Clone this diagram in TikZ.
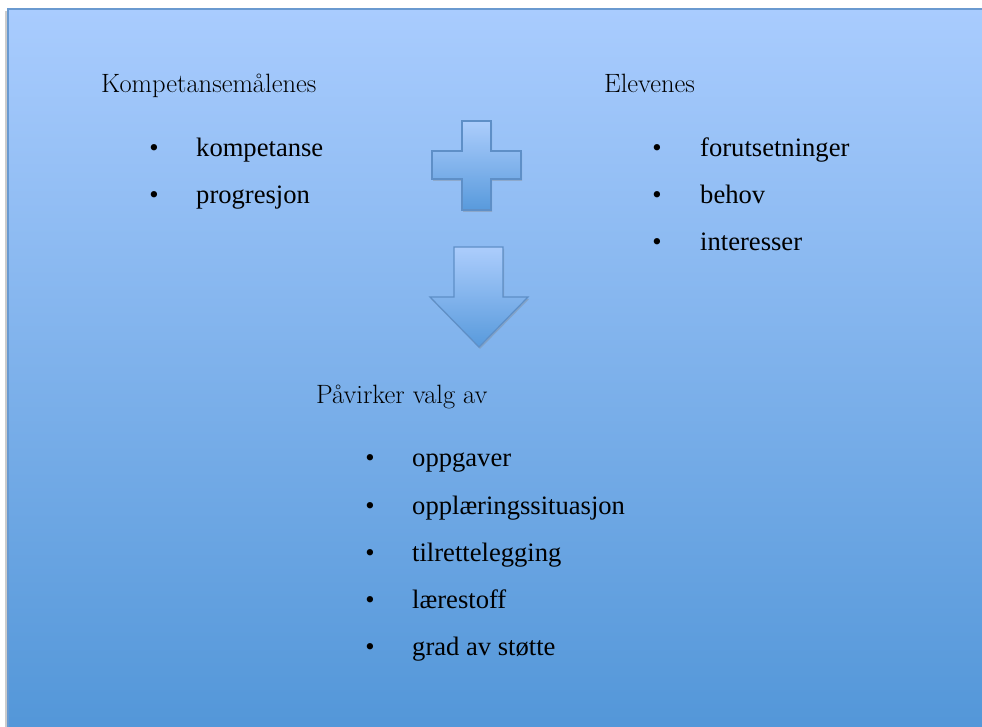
\documentclass[tikz,border=0pt]{standalone}
\usepackage{fontspec}
\setmainfont{Liberation Serif}
\newfontfamily\headfont{Latin Modern Roman}
\usetikzlibrary{shadows}
\definecolor{bgtop}{RGB}{169,204,254}
\definecolor{bgbottom}{RGB}{82,150,216}
\definecolor{shapetop}{RGB}{172,205,252}
\definecolor{shapebottom}{RGB}{88,154,220}
\definecolor{shapeline}{RGB}{94,143,199}
\definecolor{boxline}{RGB}{106,154,208}

\begin{document}
\begin{tikzpicture}[x=1pt,y=1pt]
    \tikzstyle{heading}=[anchor=base west,inner sep=0pt,font=\headfont\fontsize{26.5}{30}\selectfont]
    \tikzstyle{item}=[anchor=base west,inner sep=0pt,font=\rmfamily\fontsize{26.6}{30}\selectfont]
    \tikzstyle{dot}=[anchor=base,inner sep=0pt,font=\rmfamily\fontsize{26.6}{30}\selectfont]
    \tikzstyle{symbol}=[top color=shapetop,bottom color=shapebottom,draw=shapeline,line width=1.2pt,
        drop shadow={opacity=0.35,shadow xshift=1pt,shadow yshift=-2pt}]
    \def\itemsep{47.3}

    \useasboundingbox (0,0) rectangle (982,727);

    % Draw the background panel
    \fill[black!20] (5,-10) rectangle (990,716);
    \shade[top color=bgtop,bottom color=bgbottom] (8,-10) rectangle (990,718);
    \draw[boxline,line width=1.5pt] (8,-10) -- (8,718) -- (990,718);

    % Draw the plus and the arrow
    \path[symbol] (462,606) -- (491,606) -- (491,576) -- (521,576) -- (521,548) -- (491,548)
        -- (491,517) -- (462,517) -- (462,548) -- (432,548) -- (432,576) -- (462,576) -- cycle;
    \path[symbol] (454,480) -- (503,480) -- (503,430) -- (528,430) -- (479,380)
        -- (430,430) -- (454,430) -- cycle;

    % Draw the headings
    \node[heading] (goals) at (101,634) {Kompetansemålenes};
    \node[heading] (pupils) at (604,634) {Elevenes};
    \node[heading] (choice) at (316,323) {Påvirker valg av};

    % Draw the list of the goals
    \foreach \name [count=\i] in {kompetanse,progresjon} {
        \node[dot] (gd-\i) at (154,{618-\i*\itemsep}) {•};
        \node[item] (g-\i) at (196,{618-\i*\itemsep}) {\name};
    }

    % Draw the list of the pupils
    \foreach \name [count=\i] in {forutsetninger,behov,interesser} {
        \node[dot] (pd-\i) at (657,{618-\i*\itemsep}) {•};
        \node[item] (p-\i) at (700,{618-\i*\itemsep}) {\name};
    }

    % Draw the list of the choices
    \foreach \name [count=\i] in {oppgaver,opplæringssituasjon,tilrettelegging,lærestoff,grad av støtte} {
        \node[dot] (cd-\i) at (370,{307.5-\i*\itemsep}) {•};
        \node[item] (c-\i) at (412,{307.5-\i*\itemsep}) {\name};
    }
\end{tikzpicture}
\end{document}
